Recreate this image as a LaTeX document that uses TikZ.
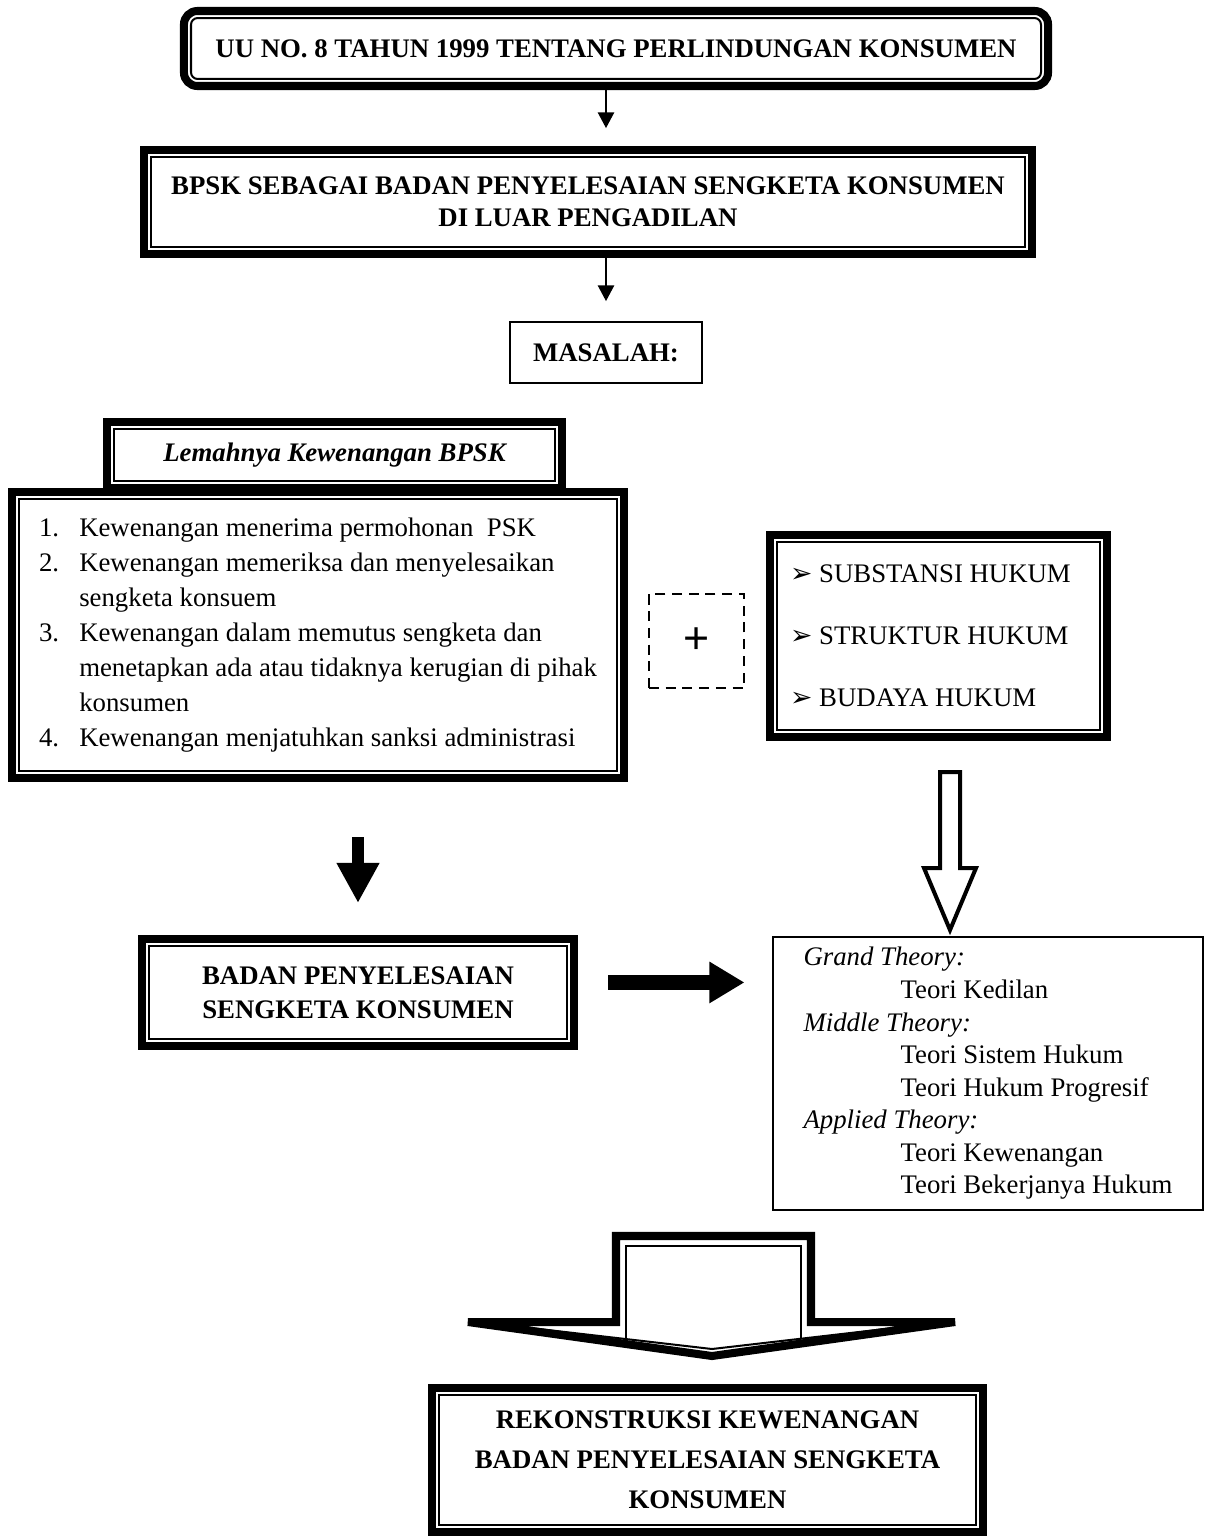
\documentclass[tikz,border=0pt]{standalone}
\usepackage{fontspec}
\setmainfont{Liberation Serif}
\newfontfamily\symfont{DejaVu Sans}
\newfontfamily\plusfont{Liberation Sans}
\usetikzlibrary{arrows.meta,positioning,fit,calc}
\tikzset{
  thinbox/.style={draw, line width=0.9pt, align=center, inner sep=0pt},
  outerframe/.style={draw, line width=3.6pt, inner sep=2.7pt},
  plainbox/.style={draw, line width=0.75pt, align=center, inner sep=0pt},
  dashbox/.style={draw, dashed, line width=0.9pt, dash pattern=on 4.5pt off 3pt, inner sep=0pt},
  smallarrow/.style={-{Triangle[length=7pt,width=7.2pt]}, line width=0.9pt},
  bigarrow/.style={-{Triangle[length=18pt,width=18pt]}, line width=5.4pt},
  widearrow/.style={-{Triangle[length=15.7pt,width=17.5pt]}, line width=6.7pt},
  hollowarrow/.style={draw, line width=1.8pt, line join=miter},
  bendframe/.style={draw, line width=3.6pt, line join=miter, miter limit=2},
  bendline/.style={draw, line width=0.9pt}
}
\newcommand{\itemno}[1]{\makebox[18pt][l]{#1}}
\newcommand{\hukumbullet}{{\symfont ➢}\ }
\begin{document}
\begin{tikzpicture}[x=0.448pt,y=-0.448pt]
\useasboundingbox (0,0) rectangle (1205,1537);
% heading boxes
\node[thinbox, rounded corners=3pt, minimum width=380.8pt, minimum height=27.3pt, font=\fontsize{12}{14.4}\selectfont\bfseries] (title) at (616,48.5) {UU NO. 8 TAHUN 1999 TENTANG PERLINDUNGAN KONSUMEN};
\node[outerframe, rounded corners=6pt, fit=(title)] (titleframe) {};
\node[thinbox, minimum width=391.6pt, minimum height=40.3pt, font=\fontsize{12}{14.3}\selectfont\bfseries] (bpsk) at (588,202) {BPSK SEBAGAI BADAN PENYELESAIAN SENGKETA KONSUMEN\\DI LUAR PENGADILAN};
\node[outerframe, fit=(bpsk)] (bpskframe) {};
\node[plainbox, minimum width=86pt, minimum height=27.3pt, font=\fontsize{12}{14.4}\selectfont\bfseries] (masalah) at (606,352.5) {MASALAH:};
% problem and law system
\node[thinbox, minimum width=197.6pt, minimum height=23.3pt, font=\fontsize{12}{14.4}\selectfont\bfseries\itshape] (lemah) at (334.5,455) {Lemahnya Kewenangan BPSK};
\node[outerframe, fit=(lemah)] (lemahframe) {};
\node[thinbox, minimum width=267.9pt, minimum height=121.9pt, align=left, font=\fontsize{12}{15.7}\selectfont] (kewenangan) at (318,635) {%
\itemno{1.}Kewenangan menerima permohonan\ \ PSK\\
\itemno{2.}Kewenangan memeriksa dan menyelesaikan\\
\itemno{}sengketa konsuem\\
\itemno{3.}Kewenangan dalam memutus sengketa dan\\
\itemno{}menetapkan ada atau tidaknya kerugian di pihak\\
\itemno{}konsumen\\
\itemno{4.}Kewenangan menjatuhkan sanksi administrasi};
\node[outerframe, fit=(kewenangan)] (kewframe) {};
\node[dashbox, minimum width=42.6pt, minimum height=42.1pt, font=\plusfont\fontsize{20}{20}\selectfont] (plus) at (696.5,641) {+};
\node[thinbox, minimum width=144.7pt, minimum height=84.2pt, align=left, font=\fontsize{12}{27.8}\selectfont] (hukum) at (938.5,636) {%
\hukumbullet SUBSTANSI HUKUM\hspace*{7.2pt}\\
\hukumbullet STRUKTUR HUKUM\\
\hukumbullet BUDAYA HUKUM};
\node[outerframe, fit=(hukum)] (hukumframe) {};
% result and theories
\node[thinbox, minimum width=187.3pt, minimum height=41.7pt, font=\fontsize{12}{15.2}\selectfont\bfseries] (badan) at (358,992.5) {BADAN PENYELESAIAN\\SENGKETA KONSUMEN};
\node[outerframe, fit=(badan)] (badanframe) {};
\node[plainbox, line width=0.6pt, minimum width=192.6pt, minimum height=122.3pt, align=left, font=\fontsize{12}{14.6}\selectfont] (theory) at (988,1073.5) {%
\textit{Grand Theory:}\\
\hspace*{43.5pt}Teori Kedilan\\
\textit{Middle Theory:}\\
\hspace*{43.5pt}Teori Sistem Hukum\\
\hspace*{43.5pt}Teori Hukum Progresif\\
\textit{Applied Theory:}\\
\hspace*{43.5pt}Teori Kewenangan\\
\hspace*{43.5pt}Teori Bekerjanya Hukum};
\node[thinbox, minimum width=240.6pt, minimum height=58.2pt, font=\fontsize{12}{18}\selectfont\bfseries] (rekon) at (707.5,1460) {REKONSTRUKSI KEWENANGAN\\BADAN PENYELESAIAN SENGKETA\\KONSUMEN};
\node[outerframe, fit=(rekon)] (rekonframe) {};
% connectors
\draw[smallarrow, shorten >=8pt] (titleframe.south -| masalah.north) -- (masalah.north |- bpskframe.north);
\draw[smallarrow, shorten >=9pt] (bpskframe.south -| masalah.north) -- (masalah.north);
\draw[bigarrow, shorten <=24.6pt, shorten >=14.3pt] (badanframe.north |- kewframe.south) -- (badanframe.north);
\draw[widearrow, shorten <=13.4pt, shorten >=12.5pt] ([yshift=4.5pt]badanframe.east) -- ([yshift=4.5pt]badanframe.east -| theory.west);
\coordinate (hollowtop) at (950,772);
\draw[hollowarrow] ($(hollowtop)+(-10,0)$) -- ++(20,0) -- ++(0,96) -- ++(16,0) -- ++(-26,62) -- ++(-26,-62) -- ++(16,0) -- cycle;
% bottom arrow
\draw[bendframe] (616,1322) -- (616,1236) -- (811,1236) -- (811,1322) -- (955,1322) -- (712,1356) -- (468,1322) -- cycle;
\draw[bendline] (626,1339) -- (626,1246) -- (801,1246) -- (801,1339);
\draw[bendline] (522,1327) -- (712,1349) -- (902,1327);
\end{tikzpicture}
\end{document}
